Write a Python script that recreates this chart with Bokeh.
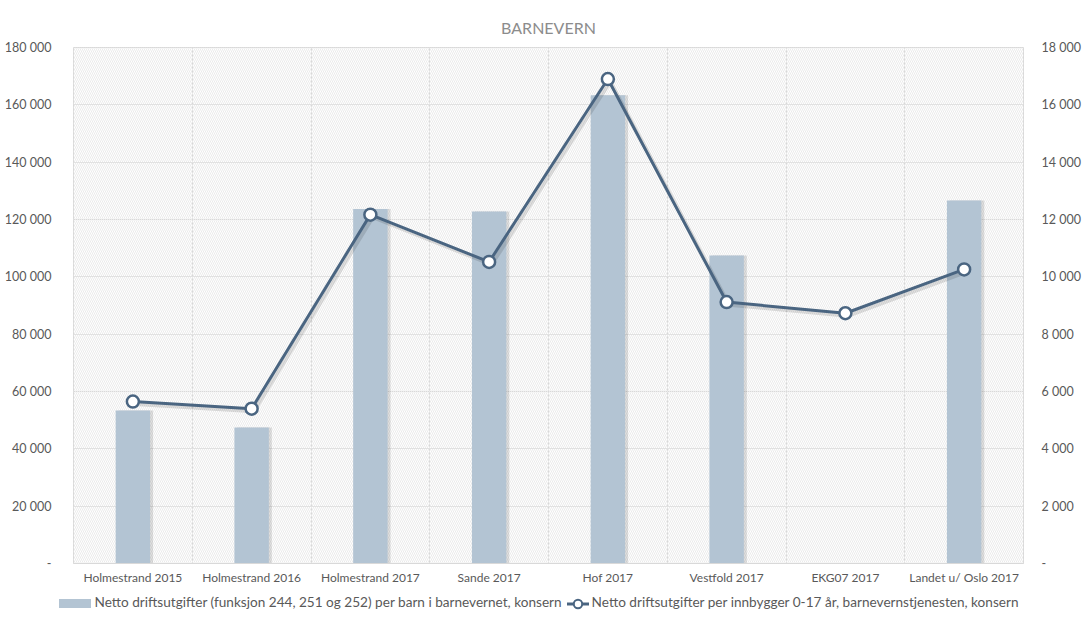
from bokeh.plotting import figure
from bokeh.layouts import column
from bokeh.models import (Range1d, LinearAxis, FixedTicker, CustomJSTickFormatter,
                          BoxAnnotation, Div)
from bokeh.embed import file_html
from bokeh.resources import INLINE

categories = ["Holmestrand 2015", "Holmestrand 2016", "Holmestrand 2017", "Sande 2017",
              "Hof 2017", "Vestfold 2017", "EKG07 2017", "Landet u/ Oslo 2017"]
per_barn = [53400, 47400, 123700, 122800, 163300, 107400, 0, 126600]
per_innbygger = [5650, 5400, 12170, 10520, 16900, 9120, 8730, 10260]
left_ticks = [0, 20000, 40000, 60000, 80000, 100000, 120000, 140000, 160000, 180000]
right_ticks = [0, 2000, 4000, 6000, 8000, 10000, 12000, 14000, 16000, 18000]

bar_label = "Netto driftsutgifter (funksjon 244, 251 og 252) per barn i barnevernet, konsern"
line_label = "Netto driftsutgifter per innbygger 0-17 år, barnevernstjenesten, konsern"

FONT = "Lato"
TXT = "#595959"
GRID = "#d9d9d9"
BAR = "#b3c4d3"
LINE = "#4a6581"

xs = [i + 0.5 for i in range(len(categories))]

p = figure(frame_width=950, frame_height=516, output_backend="svg", toolbar_location=None,
           x_range=Range1d(0, len(categories)), y_range=Range1d(0, 180000),
           min_border_left=73, min_border_right=46, min_border_top=47, min_border_bottom=0)
p.extra_y_ranges = {"right": Range1d(0, 18000)}

p.title.text = "BARNEVERN"
p.title.align = "center"
p.title.text_font = FONT
p.title.text_font_size = "16px"
p.title.text_font_style = "normal"
p.title.text_color = "#8c8c8c"
p.title.standoff = 22

p.outline_line_color = GRID
p.background_fill_color = "white"
p.add_layout(BoxAnnotation(left=0, right=len(categories), bottom=0, top=180000,
                           fill_alpha=0, line_alpha=0,
                           hatch_pattern="\\", hatch_color="#ebebeb", hatch_scale=4,
                           hatch_weight=1, level="underlay"))

fmt = CustomJSTickFormatter(code="""
if (tick == 0) { return '-'; }
return Math.round(tick).toString().replace(/\\B(?=(\\d{3})+(?!\\d))/g, ' ');
""")

# left axis
ya = p.yaxis[0]
ya.ticker = FixedTicker(ticks=left_ticks)
ya.formatter = fmt
ya.axis_line_color = None
ya.major_tick_line_color = None
ya.minor_tick_line_color = None
ya.major_label_text_font = FONT
ya.major_label_text_font_size = "12.5px"
ya.major_label_text_color = TXT
ya.major_label_standoff = 16

# right axis
ra = LinearAxis(y_range_name="right", ticker=FixedTicker(ticks=right_ticks), formatter=fmt)
ra.axis_line_color = None
ra.major_tick_line_color = None
ra.minor_tick_line_color = None
ra.major_label_text_font = FONT
ra.major_label_text_font_size = "12.5px"
ra.major_label_text_color = TXT
ra.major_label_standoff = 12
p.add_layout(ra, "right")

# x axis
xa = p.xaxis[0]
xa.ticker = FixedTicker(ticks=xs)
xa.major_label_overrides = {x: c for x, c in zip(xs, categories)}
xa.axis_line_color = GRID
xa.major_tick_line_color = None
xa.minor_tick_line_color = None
xa.major_tick_out = 0
xa.major_label_text_font = FONT
xa.major_label_text_font_size = "12px"
xa.major_label_text_color = TXT
xa.major_label_standoff = 6

p.ygrid.ticker = FixedTicker(ticks=left_ticks)
p.ygrid.grid_line_color = GRID
p.xgrid.ticker = FixedTicker(ticks=list(range(len(categories) + 1)))
p.xgrid.grid_line_color = GRID

# bar shadows
p.vbar(x=[x + 0.025 for x in xs], top=per_barn, width=0.29, bottom=0,
       fill_color="#000000", fill_alpha=0.12, line_color=None)
p.vbar(x=xs, top=per_barn, width=0.29, bottom=0, fill_color=BAR, line_color=None)

# line shadow
p.line(x=[x + 0.02 for x in xs], y=[v - 90 for v in per_innbygger], y_range_name="right",
       line_color="#000000", line_alpha=0.12, line_width=4)
p.line(x=xs, y=per_innbygger, y_range_name="right", line_color=LINE, line_width=3)
p.scatter(x=xs, y=per_innbygger, y_range_name="right", size=12, marker="circle",
          fill_color="white", line_color=LINE, line_width=2.5)

# legend strip below the chart
legend_html = (
    f'<div style="width:1078px;text-align:center;font-family:{FONT};font-size:13.6px;'
    f'color:{TXT};line-height:30px;white-space:nowrap;">'
    f'<span style="display:inline-block;width:32px;height:9px;background:{BAR};'
    f'vertical-align:middle;margin-right:3px;"></span>{bar_label}'
    f'<span style="display:inline-block;width:5px;"></span>'
    f'<svg width="22" height="12" style="vertical-align:middle;margin-right:3px;">'
    f'<line x1="0" y1="6" x2="22" y2="6" stroke="{LINE}" stroke-width="3"/>'
    f'<circle cx="11" cy="6" r="4.2" fill="white" stroke="{LINE}" stroke-width="2"/></svg>'
    f'{line_label}</div>'
)
leg = Div(text=legend_html, width=1078, height=34, margin=(0, 0, 0, 0))

layout = column(p, leg, spacing=0)
open("out.html", "w").write(file_html(layout, INLINE))
